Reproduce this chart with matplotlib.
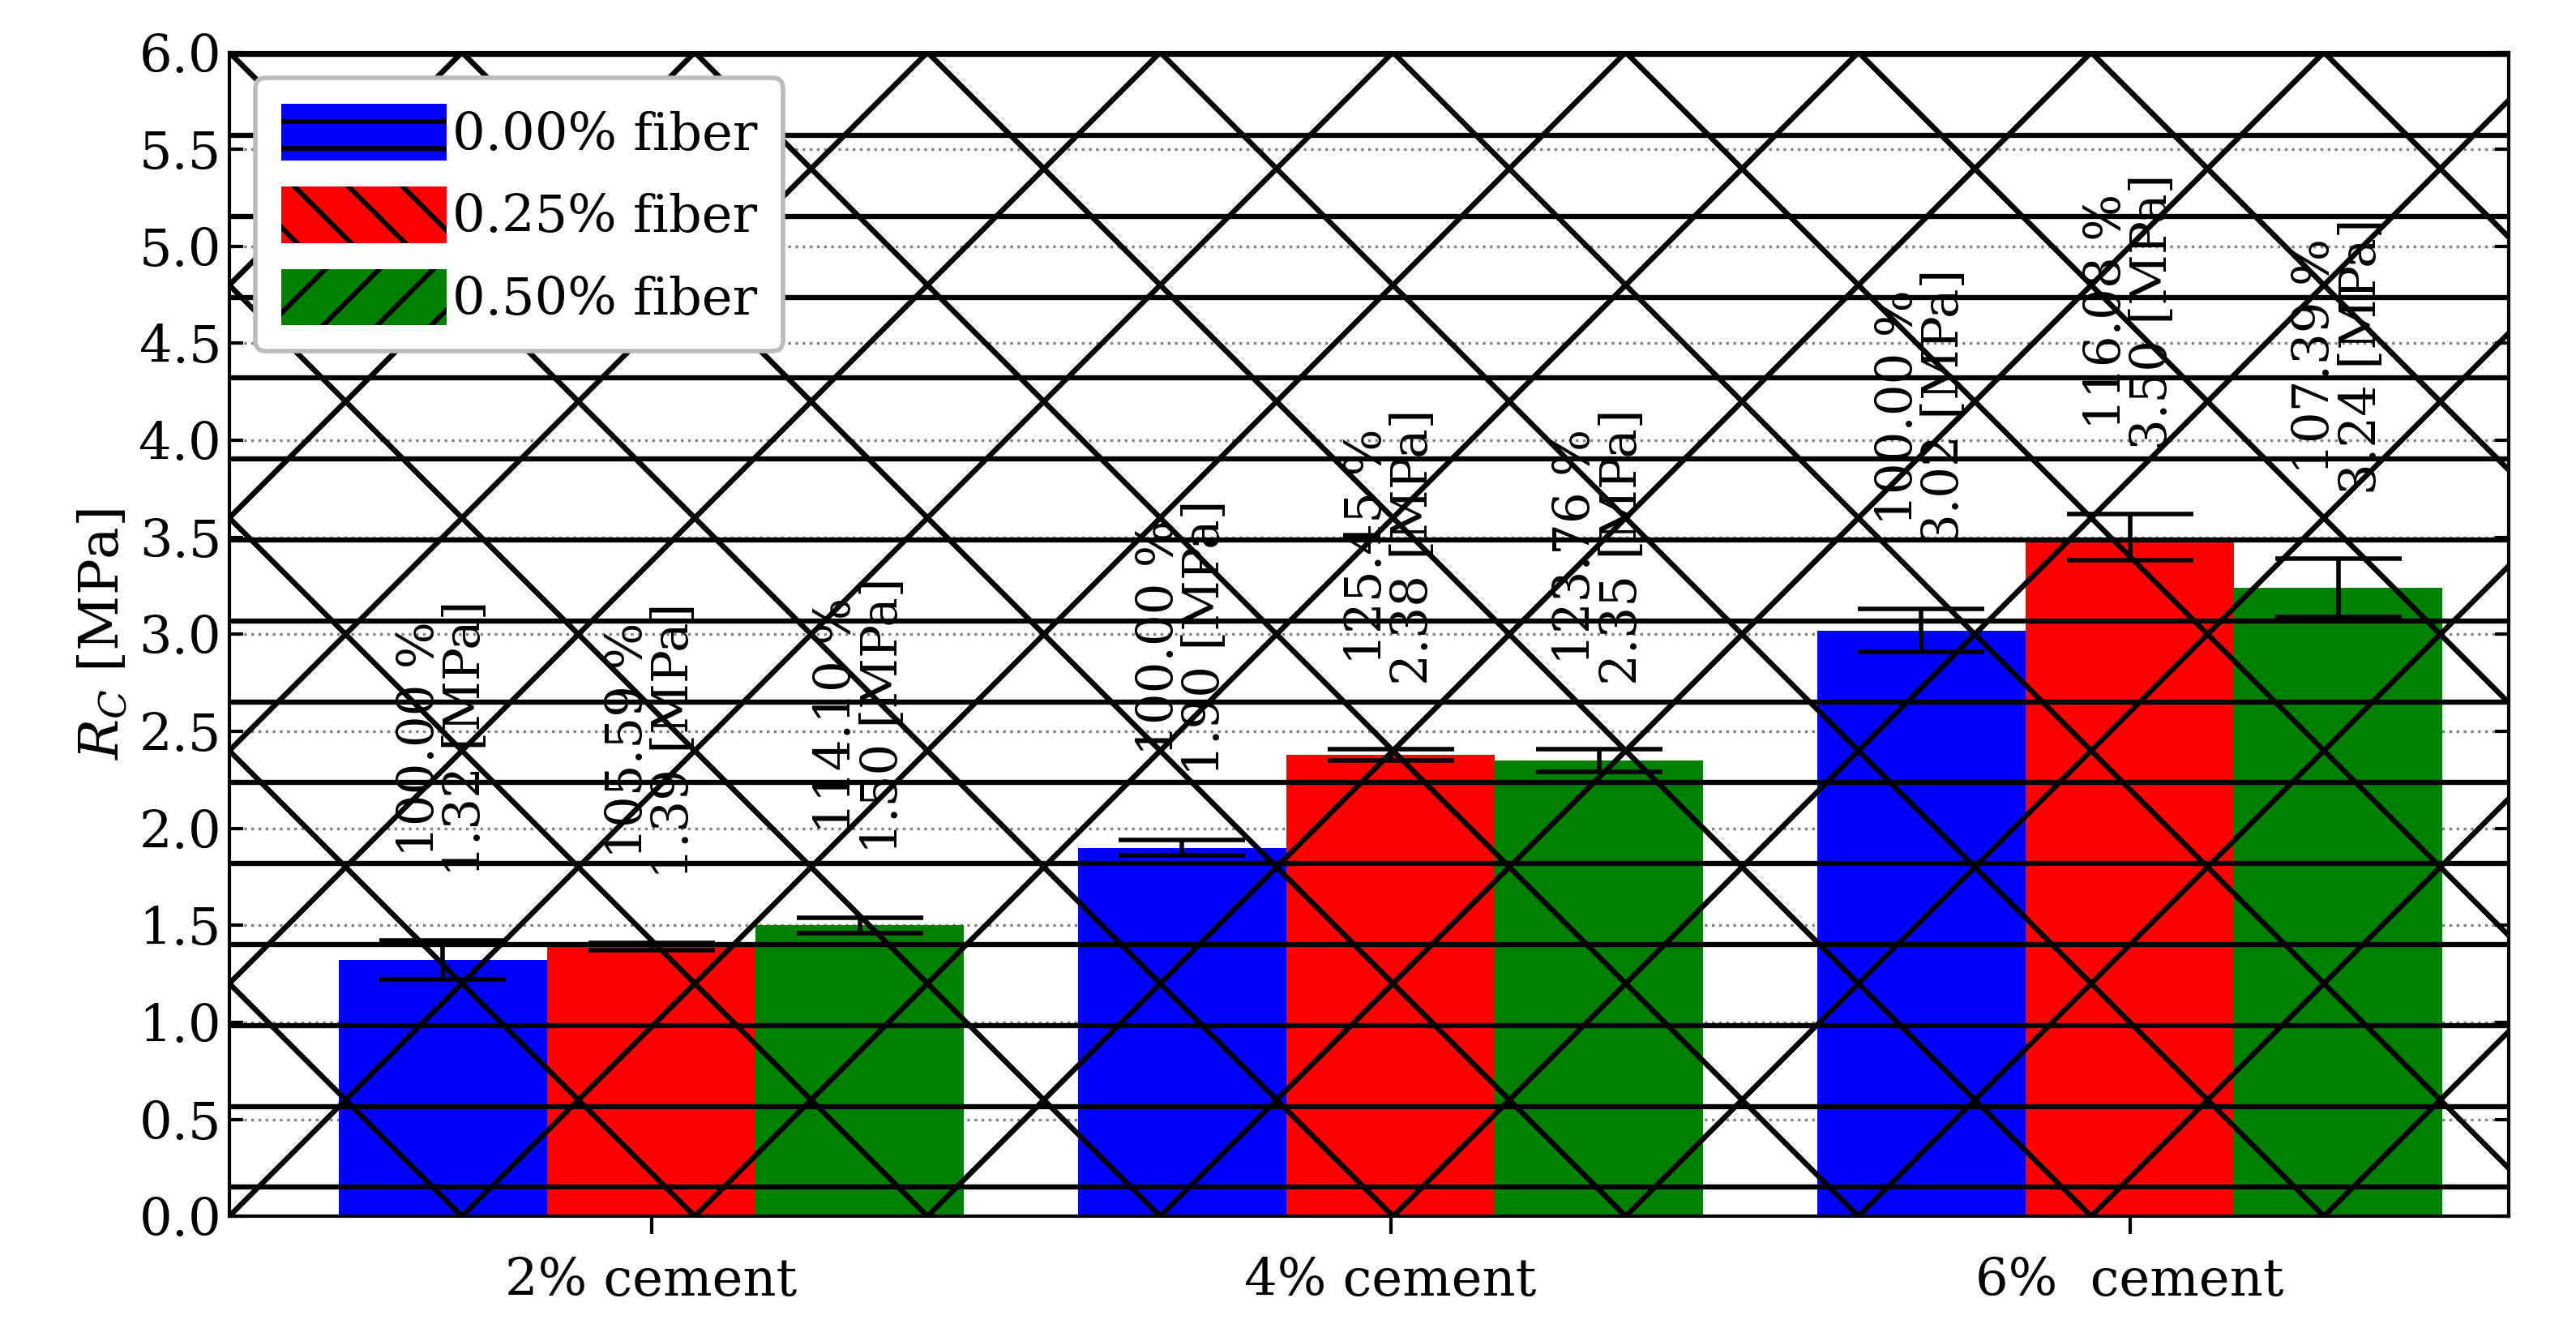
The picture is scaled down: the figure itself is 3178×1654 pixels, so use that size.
import numpy as np
import matplotlib
matplotlib.use('Agg')
import matplotlib.pyplot as plt

plt.rcParams['font.family'] = 'DejaVu Serif'
plt.rcParams['mathtext.fontset'] = 'dejavuserif'
plt.rcParams['hatch.linewidth'] = 2.2

groups = ['2% cement', '4% cement', '6%  cement']
series = ['0.00% fiber', '0.25% fiber', '0.50% fiber']
colors = ['blue', 'red', 'green']
hatches = ['-', '\\', '/']
values = [[1.32, 1.90, 3.02],
          [1.39, 2.38, 3.50],
          [1.50, 2.35, 3.24]]
errors = [[0.10, 0.04, 0.11],
          [0.02, 0.03, 0.12],
          [0.04, 0.06, 0.15]]
percents = [['100.00', '100.00', '100.00'],
            ['105.59', '125.45', '116.08'],
            ['114.10', '123.76', '107.39']]

fig = plt.figure(figsize=(15.89, 8.27), dpi=200)
ax = fig.add_axes([0.089, 0.093, 0.885, 0.868])

# sparse custom hatching (lines in axes coords clipped to each bar)
asp = (0.885 * 15.89) / (0.868 * 8.27)
xx = np.array([0.0, 1.0])

def sparse_hatch(patch, kind):
    if kind == '-':
        for y0 in np.arange(0.025, 1.0, 0.0695):
            ax.plot(xx, [y0, y0], transform=ax.transAxes, color='black', lw=2.2,
                    clip_path=patch, zorder=2.5)
    else:
        sgn = 1 if kind == '/' else -1
        for c in np.arange(-3.0, 3.0, 0.2):
            ax.plot(xx, c + sgn * asp * xx, transform=ax.transAxes, color='black',
                    lw=2.2, clip_path=patch, zorder=2.5)

x = np.arange(len(groups))
w = 0.282
for i in range(3):
    pos = x + (i - 1) * w
    bars = ax.bar(pos, values[i], w, color=colors[i], linewidth=0, zorder=2)
    for b in bars:
        sparse_hatch(b, hatches[i])
    ax.bar([np.nan], [np.nan], color=colors[i], hatch=hatches[i], edgecolor='black',
           linewidth=0, label=series[i])
    ax.errorbar(pos, values[i], yerr=errors[i], fmt='none', ecolor='black',
                elinewidth=2, capsize=28, capthick=2, zorder=3)
    for j in range(3):
        ax.text(pos[j], values[i][j] + errors[i][j] + 0.33,
                '%s %%\n%.2f [MPa]' % (percents[i][j], values[i][j]),
                rotation=90, ha='center', va='bottom', fontsize=22, linespacing=0.95)

ax.set_xlim(-0.571, 2.513)
ax.set_ylim(0, 6.0)
ax.set_yticks(np.arange(0, 6.01, 0.5))
ax.set_xticks(x)
ax.set_xticklabels(groups)
ax.tick_params(axis='both', labelsize=23, direction='in', width=1.5, length=6)
ax.tick_params(axis='x', direction='out', length=8, pad=10)
ax.tick_params(axis='y', right=True)
ax.yaxis.grid(True, linestyle=':', color='gray', linewidth=1.2, zorder=0)
ax.set_axisbelow(True)
for s in ax.spines.values():
    s.set_linewidth(1.5)
ax.set_ylabel('$R_C$ [MPa]', fontsize=24)
ax.legend(loc='upper left', fontsize=23, handlelength=3.2, handleheight=1.3,
          handletextpad=0.1, borderpad=0.5, framealpha=1, edgecolor='#bbbbbb',
          fancybox=True).get_frame().set_linewidth(2)

fig.savefig('out.png', dpi=200)
